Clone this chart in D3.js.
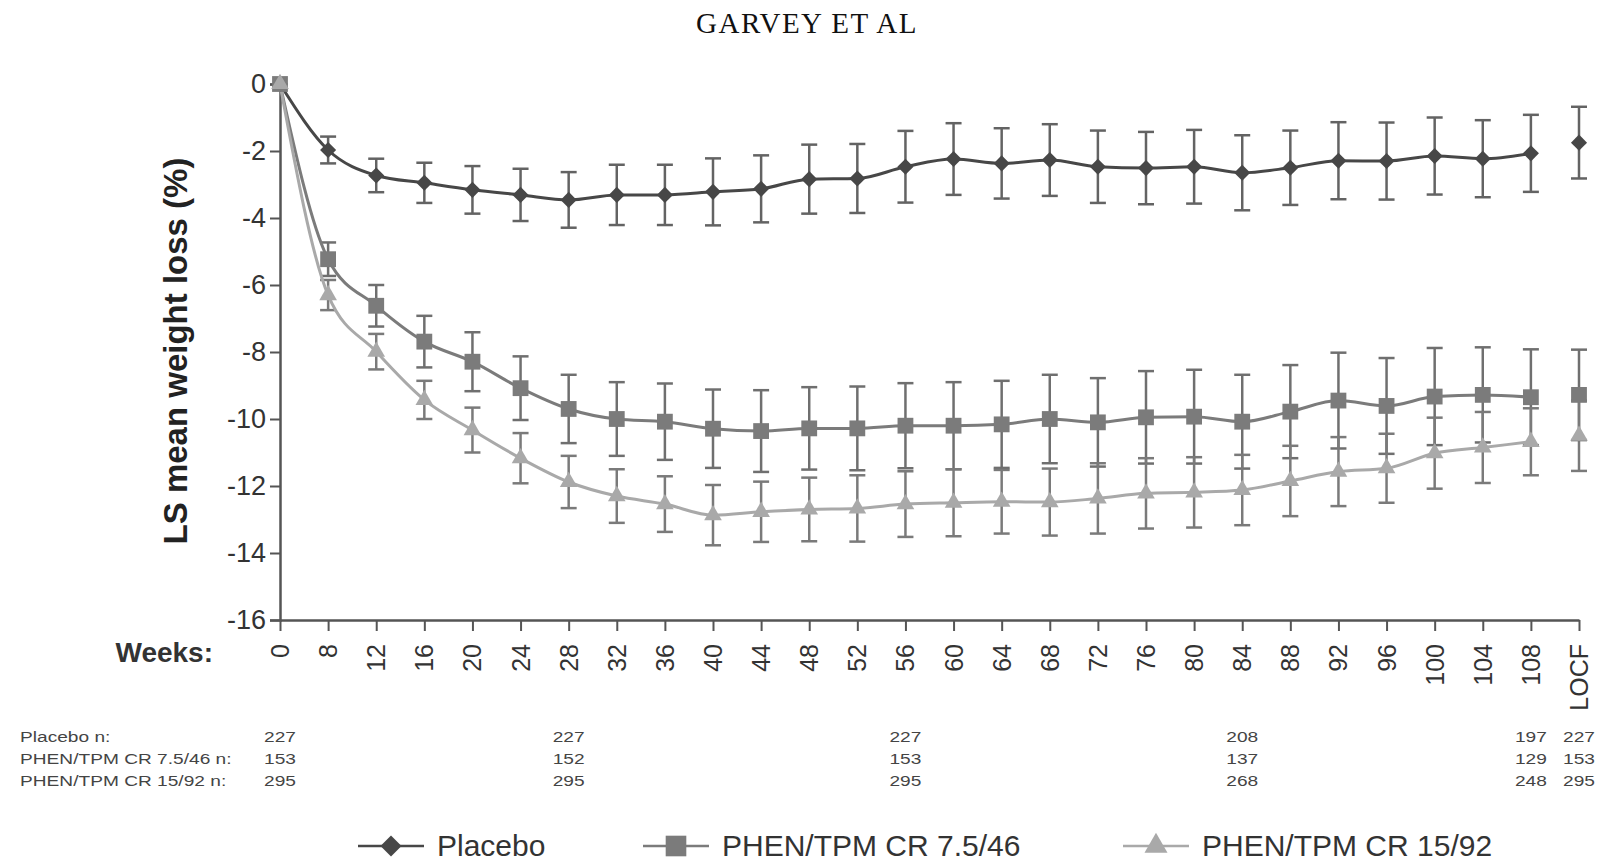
<!DOCTYPE html>
<html>
<head>
<meta charset="utf-8">
<script src="https://cdn.jsdelivr.net/npm/d3@7"></script>
<style>
  body { margin: 0; background: #fff; }
  text { font-family: "Liberation Sans", Arial, sans-serif; }
</style>
</head>
<body>
<div id="chart"></div>
<script>
var weekLabels = ["0","8","12","16","20","24","28","32","36","40","44","48","52","56","60","64","68","72","76","80","84","88","92","96","100","104","108","LOCF"];

var placeboMean = [0,-1.97,-2.73,-2.95,-3.16,-3.31,-3.46,-3.31,-3.31,-3.22,-3.13,-2.84,-2.82,-2.47,-2.24,-2.37,-2.27,-2.47,-2.51,-2.47,-2.65,-2.5,-2.29,-2.3,-2.15,-2.23,-2.07,-1.75];
var placeboErr  = [0,0.4,0.5,0.6,0.71,0.78,0.83,0.9,0.9,1.0,1.0,1.03,1.03,1.07,1.07,1.05,1.07,1.08,1.08,1.1,1.12,1.11,1.15,1.15,1.15,1.15,1.15,1.07];

var midMean = [0,-5.23,-6.62,-7.69,-8.29,-9.08,-9.7,-10.0,-10.08,-10.29,-10.36,-10.28,-10.28,-10.2,-10.2,-10.16,-10.0,-10.1,-9.95,-9.93,-10.08,-9.78,-9.45,-9.61,-9.33,-9.28,-9.35,-9.28];
var midErr  = [0,0.5,0.62,0.77,0.88,0.95,1.02,1.1,1.14,1.17,1.22,1.23,1.25,1.27,1.3,1.3,1.32,1.32,1.38,1.4,1.4,1.39,1.43,1.43,1.45,1.42,1.43,1.35];

var highMean = [0,-6.3,-7.99,-9.43,-10.33,-11.17,-11.88,-12.3,-12.54,-12.87,-12.77,-12.7,-12.67,-12.54,-12.5,-12.47,-12.48,-12.37,-12.22,-12.19,-12.12,-11.85,-11.57,-11.47,-11.02,-10.85,-10.68,-10.5];
var highErr  = [0,0.45,0.53,0.57,0.67,0.75,0.78,0.8,0.83,0.9,0.9,0.95,0.99,0.98,1.0,0.95,1.0,1.05,1.05,1.05,1.05,1.05,1.03,1.03,1.06,1.06,1.0,1.05];

var yTicks = [0,-2,-4,-6,-8,-10,-12,-14,-16];

var nWeeks = ["0","28","56","84","108","LOCF"];
var nRowLabels = ["Placebo n:","PHEN/TPM CR 7.5/46 n:","PHEN/TPM CR 15/92 n:"];
var placeboN = [227,227,227,208,197,227];
var midN = [153,152,153,137,129,153];
var highN = [295,295,295,268,248,295];

var seriesNames = ["Placebo","PHEN/TPM CR 7.5/46","PHEN/TPM CR 15/92"];

(function(){
  var width = 1601, height = 862;

  var svg = d3.select("#chart").append("svg")
    .attr("width", width)
    .attr("height", height);

  var x = d3.scalePoint().domain(weekLabels).range([280, 1579]);
  var y = d3.scaleLinear().domain([-16, 0]).range([620, 84]);

  var series = [
    {name: seriesNames[0], mean: placeboMean, err: placeboErr, color: "#474747", bar: "#636363", symbol: d3.symbolDiamond2, size: 165},
    {name: seriesNames[1], mean: midMean, err: midErr, color: "#7b7b7b", bar: "#6f6f6f", symbol: d3.symbolSquare, size: 250},
    {name: seriesNames[2], mean: highMean, err: highErr, color: "#a9a9a9", bar: "#7a7a7a", symbol: d3.symbolTriangle, size: 135}
  ];

  // title
  svg.append("text")
    .attr("x", 807).attr("y", 33)
    .attr("text-anchor", "middle")
    .style("font-family", "'Liberation Serif', 'Times New Roman', serif")
    .style("font-size", "29px")
    .style("letter-spacing", "1.5px")
    .attr("fill", "#111")
    .text("GARVEY ET AL");

  // y axis
  var yAxis = d3.axisLeft(y).tickValues(yTicks).tickSize(10).tickPadding(4).tickFormat(d3.format("d"));
  var gy = svg.append("g").attr("transform", "translate(280,0)").call(yAxis);
  gy.select(".domain").attr("stroke", "#555").attr("stroke-width", 2.5);
  gy.selectAll(".tick line").attr("stroke", "#555").attr("stroke-width", 2);
  gy.selectAll(".tick text")
    .style("font-size", "27px")
    .attr("fill", "#333")
    .text(function(d){ return d === 0 ? "0" : "-" + Math.abs(d); });

  // x axis
  var xAxis = d3.axisBottom(x).tickSize(11).tickSizeOuter(0).tickFormat("");
  var gx = svg.append("g").attr("transform", "translate(0,620)").call(xAxis);
  gx.select(".domain").attr("stroke", "#555").attr("stroke-width", 2.5);
  gx.selectAll(".tick line").attr("stroke", "#555").attr("stroke-width", 2);

  svg.selectAll(".xlab")
    .data(weekLabels)
    .enter().append("text")
    .attr("class", "xlab")
    .attr("transform", function(d){ return "translate(" + (x(d) + 9) + ",644) rotate(-90)"; })
    .attr("text-anchor", "end")
    .style("font-size", "25px")
    .attr("fill", "#333")
    .text(function(d){ return d; });

  svg.append("text")
    .attr("x", 213).attr("y", 662)
    .attr("text-anchor", "end")
    .style("font-size", "28px")
    .style("font-weight", "bold")
    .attr("fill", "#333")
    .text("Weeks:");

  svg.append("text")
    .attr("transform", "translate(187,351) rotate(-90)")
    .attr("text-anchor", "middle")
    .style("font-size", "33px")
    .style("font-weight", "bold")
    .attr("fill", "#222")
    .text("LS mean weight loss (%)");

  // error bars
  series.forEach(function(s){
    var g = svg.append("g");
    var pts = s.mean.map(function(m, i){ return {wk: weekLabels[i], m: m, e: s.err[i]}; })
      .filter(function(d){ return d.e > 0; });
    g.selectAll("line.v").data(pts).enter().append("line")
      .attr("x1", function(d){ return x(d.wk); })
      .attr("x2", function(d){ return x(d.wk); })
      .attr("y1", function(d){ return y(d.m + d.e); })
      .attr("y2", function(d){ return y(d.m - d.e); })
      .attr("stroke", s.bar).attr("stroke-width", 2.5);
    [1, -1].forEach(function(sign){
      g.selectAll("line.c" + sign).data(pts).enter().append("line")
        .attr("x1", function(d){ return x(d.wk) - 8; })
        .attr("x2", function(d){ return x(d.wk) + 8; })
        .attr("y1", function(d){ return y(d.m + sign * d.e); })
        .attr("y2", function(d){ return y(d.m + sign * d.e); })
        .attr("stroke", s.bar).attr("stroke-width", 2.5);
    });
  });

  // lines (LOCF point stands alone)
  var line = d3.line()
    .defined(function(d){ return d.wk !== "LOCF"; })
    .x(function(d){ return x(d.wk); })
    .y(function(d){ return y(d.m); })
    .curve(d3.curveMonotoneX);

  series.forEach(function(s){
    var pts = s.mean.map(function(m, i){ return {wk: weekLabels[i], m: m}; });
    svg.append("path")
      .datum(pts)
      .attr("d", line)
      .attr("fill", "none")
      .attr("stroke", s.color)
      .attr("stroke-width", 3);
  });

  series.forEach(function(s){
    var pts = s.mean.map(function(m, i){ return {wk: weekLabels[i], m: m}; });
    svg.append("g").selectAll("path").data(pts).enter().append("path")
      .attr("d", d3.symbol().type(s.symbol).size(s.size))
      .attr("transform", function(d){ return "translate(" + x(d.wk) + "," + y(d.m) + ")"; })
      .attr("fill", s.color);
  });

  // n table
  var rowY = [742, 764, 786];
  var nRows = [placeboN, midN, highN];
  var sx = 1.32;
  nRowLabels.forEach(function(lab, r){
    svg.append("text")
      .attr("transform", "translate(20," + rowY[r] + ") scale(" + sx + ",1)")
      .style("font-size", "14.5px")
      .attr("fill", "#444")
      .text(lab);
    svg.selectAll(".n" + r).data(nWeeks).enter().append("text")
      .attr("transform", function(d){ return "translate(" + x(d) + "," + rowY[r] + ") scale(" + sx + ",1)"; })
      .attr("text-anchor", "middle")
      .style("font-size", "14.5px")
      .attr("fill", "#444")
      .text(function(d, i){ return nRows[r][i]; });
  });

  // legend
  var legX = [358, 643, 1123];
  series.forEach(function(s, i){
    var g = svg.append("g").attr("transform", "translate(" + legX[i] + ",846)");
    g.append("line").attr("x1", 0).attr("x2", 66).attr("y1", 0).attr("y2", 0)
      .attr("stroke", s.color).attr("stroke-width", 2.5);
    g.append("path")
      .attr("d", d3.symbol().type(s.symbol).size(s.size * 1.7))
      .attr("transform", "translate(33,0)")
      .attr("fill", s.color);
    g.append("text")
      .attr("x", 79).attr("y", 10)
      .style("font-size", "30px")
      .attr("fill", "#333")
      .text(s.name);
  });
})();
</script>
</body>
</html>
